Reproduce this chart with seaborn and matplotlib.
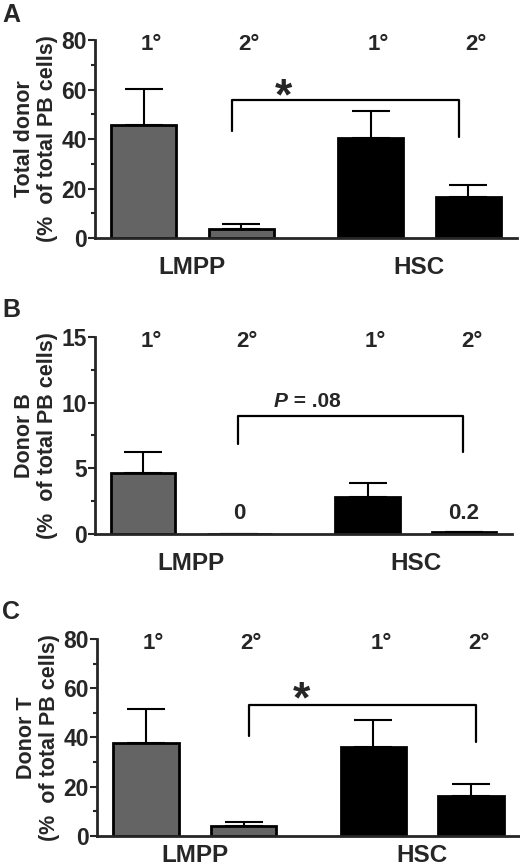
import numpy as np
import pandas as pd
import matplotlib
matplotlib.use("Agg")
import matplotlib.pyplot as plt
import seaborn as sns

# values (mean and upper error bar)
groups = ["LMPP", "LMPP", "HSC", "HSC"]
transplant = ["1°", "2°", "1°", "2°"]

total_mean = [45.7, 3.8, 40.4, 16.6]
total_err = [14.5, 1.9, 11.0, 4.7]

b_mean = [4.65, 0.0, 2.85, 0.2]
b_err = [1.62, 0.0, 1.07, 0.0]
b_value_labels = ["", "0", "", "0.2"]

t_mean = [37.8, 3.8, 36.2, 16.3]
t_err = [13.6, 1.9, 11.0, 4.6]

# layout
xpos = [0, 1, 2.33, 3.33]
colors = {"LMPP": "#646464", "HSC": "#000000"}

sns.set_style("ticks")
plt.rcParams["font.family"] = ["Liberation Sans", "DejaVu Sans"]
plt.rcParams["font.weight"] = "bold"

fig = plt.figure(figsize=(5.2, 8.68), dpi=100)


def panel(rect, means, errs, ymax, ystep, ylabel, letter, bracket, sig, sig_pos, xpad=13):
    ax = fig.add_axes(rect)
    df = pd.DataFrame({"x": xpos, "y": means, "group": groups})
    sns.barplot(data=df, x="x", y="y", hue="group", palette=colors,
                native_scale=True, dodge=False, width=0.67, legend=False,
                edgecolor="black", linewidth=2, errorbar=None, ax=ax)
    ax.errorbar(xpos, means, yerr=[np.zeros(len(errs)), errs], fmt="none",
                ecolor="black", elinewidth=1.5, capsize=14, capthick=1.5)

    ax.set_xlim(-0.5, 3.83)
    ax.set_ylim(0, ymax)
    ax.set_yticks(np.arange(0, ymax + 0.01, ystep))
    ax.set_yticks(np.arange(ystep / 2, ymax, ystep), minor=True)
    ax.set_xticks([0.5, 2.83])
    ax.set_xticklabels(["LMPP", "HSC"], fontsize=17.5, fontweight="bold")
    ax.tick_params(axis="x", length=0, pad=xpad)
    ax.tick_params(axis="y", which="major", length=5, width=1.5, labelsize=16.5, pad=1)
    ax.tick_params(axis="y", which="minor", length=3, width=1.5)
    for lab in ax.get_yticklabels():
        lab.set_fontweight("bold")
    sns.despine(ax=ax)
    for s in ["left", "bottom"]:
        ax.spines[s].set_linewidth(2)
    ax.set_xlabel("")
    ax.set_ylabel(ylabel, fontsize=15.5, fontweight="bold", linespacing=1.15, labelpad=2)

    for x, t in zip(xpos, transplant):
        ax.text(x + 0.08, 0.975, t, transform=ax.get_xaxis_transform(),
                ha="center", va="center", fontsize=16, fontweight="bold")

    (x0, y0), (x1, y1), yh = bracket
    ax.plot([x0, x0, x1, x1], [y0, yh, yh, y1], color="black", lw=1.6)
    if sig == "*":
        ax.text(sig_pos[0], sig_pos[1], "*", ha="center", va="center",
                fontsize=32, fontweight="bold")
    else:
        ax.text(sig_pos[0], sig_pos[1], "P", ha="right", va="center",
                fontsize=15, fontweight="bold", fontstyle="italic")
        ax.text(sig_pos[0], sig_pos[1], " = .08", ha="left", va="center",
                fontsize=15, fontweight="bold")

    bb = ax.get_position()
    fig.text(0.004, min(bb.y1 + 0.045, 0.997), letter, ha="left", va="top",
             fontsize=18, fontweight="bold")
    return ax


panel([0.1827, 0.7258, 0.8113, 0.2281], total_mean, total_err, 80, 20,
      "Total donor\n(%  of total PB cells)", "A",
      ((0.91, 43.4), (3.24, 40.9), 55.8), "*", (1.43, 56.5))

axb = panel([0.1827, 0.3845, 0.8020, 0.2276], b_mean, b_err, 15, 5,
            "Donor B\n(%  of total PB cells)", "B",
            ((0.98, 6.83), (3.32, 6.27), 8.98), "P", (1.50, 10.1))
for x, lab in zip(xpos, b_value_labels):
    if lab:
        axb.text(x, 1.55, lab, ha="center", va="center", fontsize=16, fontweight="bold")

panel([0.1865, 0.0372, 0.8135, 0.2266], t_mean, t_err, 80, 20,
      "Donor T\n(%  of total PB cells)", "C",
      ((1.056, 40.7), (3.38, 38.0), 53.0), "*", (1.59, 55.0), xpad=6)

fig.savefig("out.png", dpi=100)
